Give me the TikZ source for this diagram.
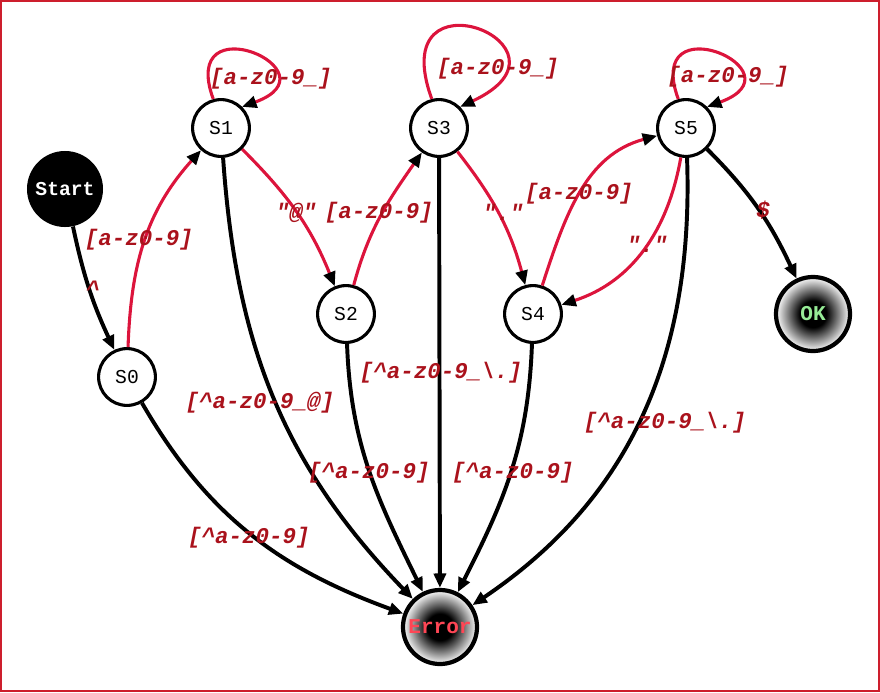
\documentclass[tikz,border=0pt]{standalone}
\usepackage{fontspec}
\setmonofont{Liberation Mono}
\usetikzlibrary{arrows.meta}

\definecolor{edgered}{RGB}{220,20,60}
\definecolor{labelred}{RGB}{170,18,28}
\definecolor{framered}{RGB}{205,30,45}
\definecolor{okgreen}{RGB}{150,235,150}
\definecolor{errred}{RGB}{255,70,85}

\pgfdeclareradialshading{ballshade}{\pgfpoint{0bp}{0bp}}{%
  color(0bp)=(black); color(9bp)=(black); color(25bp)=(white); color(50bp)=(white)}

\begin{document}
\begin{tikzpicture}[
  x=0.025cm, y=0.025cm,
  state/.style={circle, draw, line width=2.2pt, fill=white, minimum size=1.42cm, inner sep=0pt,
    font=\fontsize{14}{14}\selectfont\ttfamily},
  startstate/.style={circle, fill=black, text=white, minimum size=1.9cm, inner sep=0pt,
    font=\fontsize{14}{14}\selectfont\ttfamily\bfseries},
  endstate/.style={circle, draw, line width=3pt, shading=ballshade, minimum size=1.85cm, inner sep=0pt,
    font=\fontsize{15}{15}\selectfont\ttfamily\bfseries},
  fail/.style={-{Triangle[length=0.36cm,width=0.3cm]}, line width=2.8pt},
  match/.style={-{Triangle[length=0.36cm,width=0.3cm,color=black]}, edgered, line width=2.2pt},
  lbl/.style={text=labelred, inner sep=0pt, font=\fontsize{16}{16}\selectfont\ttfamily\bfseries\itshape},
]
  \useasboundingbox (0,0) rectangle (880,-692);
  \draw[framered, line width=0.8pt] (1,-1) rectangle (879,-691);

  % states
  \node (start) [startstate] at (65,-189)  {Start};
  \node (s0)    [state]      at (127,-377) {S0};
  \node (s1)    [state]      at (221,-128) {S1};
  \node (s2)    [state]      at (346,-314) {S2};
  \node (s3)    [state]      at (439,-128) {S3};
  \node (s4)    [state]      at (533,-314) {S4};
  \node (s5)    [state]      at (686,-128) {S5};
  \node (ok)    [endstate, text=okgreen] at (813,-314) {OK};
  \node (err)   [endstate, text=errred]  at (440,-627) {Error};

  % matching transitions
  \draw[match] (s0) to[out=88, in=228] (s1);
  \draw[match] (s1.105) .. controls +(110:2.6cm) and +(20:2.6cm) .. (s1.45);
  \draw[match] (s1) to[out=-45, in=112] (s2);
  \draw[match] (s2) to[out=75, in=235] (s3);
  \draw[match] (s3.104) .. controls +(110:3.6cm) and +(25:3.6cm) .. (s3.45);
  \draw[match] (s3) to[out=-52, in=105] (s4);
  \draw[match] (s4) to[out=72, in=195] (s5);
  \draw[match] (s5) to[out=-100, in=18] (s4);
  \draw[match] (s5.105) .. controls +(110:2.6cm) and +(20:2.6cm) .. (s5.45);

  % black transitions
  \draw[fail] (start) to[out=-78, in=115] (s0);
  \draw[fail] (s5) to[out=-45, in=115] (ok);
  \draw[fail] (s0) to[out=-60, in=160] (err);
  \draw[fail] (s1) to[out=-86, in=134] (err);
  \draw[fail] (s2) to[out=-88, in=116] (err);
  \draw[fail] (s3) -- (err);
  \draw[fail] (s4) to[out=-92, in=63] (err);
  \draw[fail] (s5) to[out=-88, in=34] (err);

  % labels
  \node (l1)  [lbl] at (93,-289)  {\textasciicircum};
  \node (l2)  [lbl] at (139,-240) {[a-z0-9]};
  \node (l3)  [lbl] at (271,-79)  {[a-z0-9\_]};
  \node (l4)  [lbl] at (296,-213) {"@"};
  \node (l5)  [lbl] at (379,-213) {[a-z0-9]};
  \node (l6)  [lbl] at (498,-69)  {[a-z0-9\_]};
  \node (l7)  [lbl] at (503,-212) {"."};
  \node (l8)  [lbl] at (579,-194) {[a-z0-9]};
  \node (l9)  [lbl] at (647,-244) {"."};
  \node (l10) [lbl] at (728,-77)  {[a-z0-9\_]};
  \node (l11) [lbl] at (763,-210) {\$};
  \node (l12) [lbl] at (260,-403) {[\textasciicircum a-z0-9\_@]};
  \node (l13) [lbl] at (369,-473) {[\textasciicircum a-z0-9]};
  \node (l14) [lbl] at (441,-373) {[\textasciicircum a-z0-9\_\textbackslash.]};
  \node (l15) [lbl] at (513,-473) {[\textasciicircum a-z0-9]};
  \node (l16) [lbl] at (665,-423) {[\textasciicircum a-z0-9\_\textbackslash.]};
  \node (l17) [lbl] at (249,-538) {[\textasciicircum a-z0-9]};
\end{tikzpicture}
\end{document}
